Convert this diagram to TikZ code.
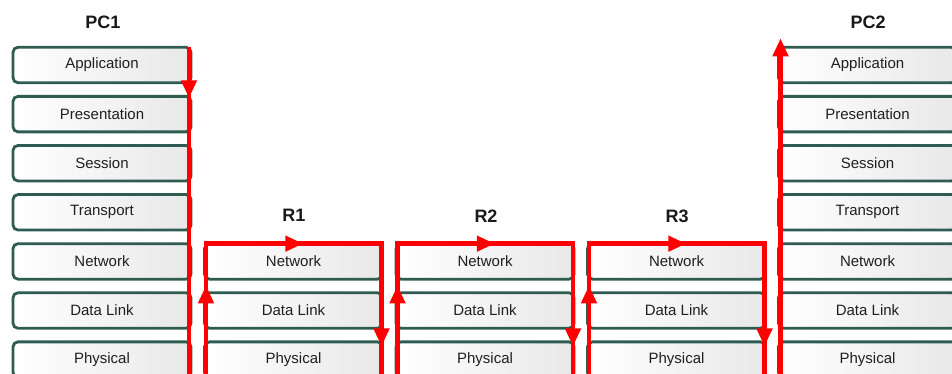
\documentclass[tikz,border=0pt]{standalone}
\usepackage{fontspec}
\setmainfont{Liberation Sans}
\usepackage{xcolor}
\usepackage{tikz}
\usetikzlibrary{arrows.meta}
\usetikzlibrary{decorations.markings}
\definecolor{layeredge}{HTML}{2E5B52}
\definecolor{flowred}{HTML}{FF0000}
\tikzset{ layer/.style = {rectangle, rounded corners=5pt, draw=layeredge, line width=2.8pt, left color=white, right color=gray!18, minimum width=178pt, minimum height=35.5pt, outer sep=0pt, text=black!88, font=\fontsize{15}{18}\selectfont} }
\tikzset{ host/.style = {font=\bfseries\fontsize{18}{21}\selectfont, text=black!90} }
\tikzset{ flowhead/.tip = {Triangle[length=18pt,width=15pt]} }
\tikzset{ flow/.style = {draw=flowred, line width=4.5pt, line join=miter} }
\tikzset{ hop/.style = {flow, postaction={decorate}, decoration={markings,
    mark=at position 92pt with {\arrow[flowred]{flowhead}},
    mark=at position 231pt with {\arrow[flowred]{flowhead}},
    mark=at position 412pt with {\arrow[flowred]{flowhead}}}} }

\begin{document}
\begin{tikzpicture}[x=1pt,y=-1pt]
        \clip (0,0) rectangle (952,373);
        % hosts and routers
        \node[host] (pc1) at (103,22) {PC1};
        \node[host] (r1) at (294,215) {R1};
        \node[host] (r2) at (486,216) {R2};
        \node[host] (r3) at (677,216) {R3};
        \node[host] (pc2) at (868,22) {PC2};
        % PC1 stack
        \node[layer] (pc1-app) at (102,65) {Application};
        \node[layer] (pc1-pre) at (102,114.1) {Presentation};
        \node[layer] (pc1-ses) at (102,163.2) {Session};
        \node[layer] (pc1-tra) at (102,212.3) {Transport};
        \node[layer] (pc1-net) at (102,261.4) {Network};
        \node[layer] (pc1-dl) at (102,310.5) {Data Link};
        \node[layer] (pc1-phy) at (102,359.6) {Physical};
        % routers
        \node[layer] (r1-net) at (293.5,261.4) {Network};
        \node[layer] (r1-dl) at (293.5,310.5) {Data Link};
        \node[layer] (r1-phy) at (293.5,359.6) {Physical};
        \node[layer] (r2-net) at (485,261.4) {Network};
        \node[layer] (r2-dl) at (485,310.5) {Data Link};
        \node[layer] (r2-phy) at (485,359.6) {Physical};
        \node[layer] (r3-net) at (676.5,261.4) {Network};
        \node[layer] (r3-dl) at (676.5,310.5) {Data Link};
        \node[layer] (r3-phy) at (676.5,359.6) {Physical};
        % PC2 stack
        \node[layer] (pc2-app) at (867.5,65) {Application};
        \node[layer] (pc2-pre) at (867.5,114.1) {Presentation};
        \node[layer] (pc2-ses) at (867.5,163.2) {Session};
        \node[layer] (pc2-tra) at (867.5,212.3) {Transport};
        \node[layer] (pc2-net) at (867.5,261.4) {Network};
        \node[layer] (pc2-dl) at (867.5,310.5) {Data Link};
        \node[layer] (pc2-phy) at (867.5,359.6) {Physical};
        % data flow
        \draw[flow, postaction={decorate}, decoration={markings, mark=at position 51pt with {\arrow[flowred]{flowhead}}}]
            ([xshift=-2pt]pc1-app.north east) -- ([xshift=-2pt]pc1-phy.south east);
        \draw[hop] ([xshift=1.5pt]r1-phy.south west) -- ([xshift=1.5pt]r1-net.north west)
            -- ([xshift=-1pt]r1-net.north east) -- ([xshift=-1pt]r1-phy.south east);
        \draw[hop] ([xshift=1.5pt]r2-phy.south west) -- ([xshift=1.5pt]r2-net.north west)
            -- ([xshift=-1pt]r2-net.north east) -- ([xshift=-1pt]r2-phy.south east);
        \draw[hop] ([xshift=1.5pt]r3-phy.south west) -- ([xshift=1.5pt]r3-net.north west)
            -- ([xshift=-1pt]r3-net.north east) -- ([xshift=-1pt]r3-phy.south east);
        \coordinate (pc2-top) at ([xshift=2pt,yshift=9pt]pc2-app.north west);
        \draw[flow, -{flowhead}] ([xshift=2pt]pc2-phy.south west) -- (pc2-top);
\end{tikzpicture}
\end{document}
